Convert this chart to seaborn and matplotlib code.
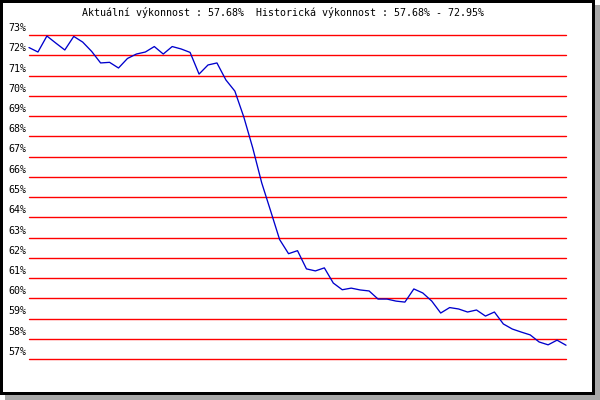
import matplotlib
matplotlib.use("Agg")
import matplotlib.pyplot as plt
from matplotlib.patches import Rectangle
import seaborn as sns
import pandas as pd

# performance readings, evenly spaced samples (percent)
vykon = [72.38, 72.16, 72.95, 72.60, 72.26, 72.93, 72.65, 72.19, 71.62, 71.65,
         71.37, 71.84, 72.06, 72.16, 72.43, 72.06, 72.43, 72.31, 72.14, 71.07,
         71.52, 71.62, 70.78, 70.23, 68.95, 67.42, 65.70, 64.31, 62.90, 62.20,
         62.35, 61.45, 61.35, 61.50, 60.75, 60.42, 60.50, 60.41, 60.36, 59.96,
         59.96, 59.86, 59.81, 60.46, 60.26, 59.86, 59.27, 59.54, 59.47, 59.32,
         59.42, 59.12, 59.32, 58.73, 58.48, 58.33, 58.19, 57.84, 57.70, 57.93,
         57.68]
urovne = list(range(57, 74))
titulek = "Aktuální výkonnost : 57.68%  Historická výkonnost : 57.68% - 72.95%"

df = pd.DataFrame({"bod": range(len(vykon)), "vykon": vykon})

sns.set_style("white")
plt.rcParams['font.family'] = ['DejaVu Sans Mono', 'DejaVu Sans']

W, H = 600, 400
fig = plt.figure(figsize=(6, 4), dpi=100)
fig.patch.set_facecolor("white")

# frame with drop shadow
fig.patches.append(Rectangle((5 / W, 0), 595 / W, 395 / H, transform=fig.transFigure,
                             facecolor="#a8a8a8", edgecolor="none", zorder=-3))
fig.patches.append(Rectangle((0, 5 / H), 595 / W, 395 / H, transform=fig.transFigure,
                             facecolor="black", edgecolor="none", zorder=-2))
fig.patches.append(Rectangle((3 / W, 8 / H), 589 / W, 389 / H, transform=fig.transFigure,
                             facecolor="white", edgecolor="none", zorder=-1))

ax = fig.add_axes([29 / W, 1 - 359 / H, 537 / W, 324 / H])
ax.set_facecolor("none")

for u in urovne:
    ax.axhline(u, color="#ff0000", lw=1.0, zorder=1)
    ax.annotate(f"{u}%", xy=(0, u), xycoords=("axes fraction", "data"),
                xytext=(-3, 2), textcoords="offset pixels",
                ha="right", va="bottom", fontsize=7.2, color="black",
                annotation_clip=False)

sns.lineplot(data=df, x="bod", y="vykon", color="#0000cc", lw=0.95, ax=ax, zorder=3)
for l in ax.lines:
    l.set_clip_on(False)

ax.set_xlim(0, len(vykon) - 1)
ax.set_ylim(57, 73)
ax.set_xticks([])
ax.set_yticks([])
ax.set_xlabel("")
ax.set_ylabel("")
for s in ax.spines.values():
    s.set_visible(False)

fig.text(82 / W, 1 - 13 / H, titulek, ha="left", va="center", fontsize=7.2, color="black")

fig.savefig("out.png", dpi=100)
